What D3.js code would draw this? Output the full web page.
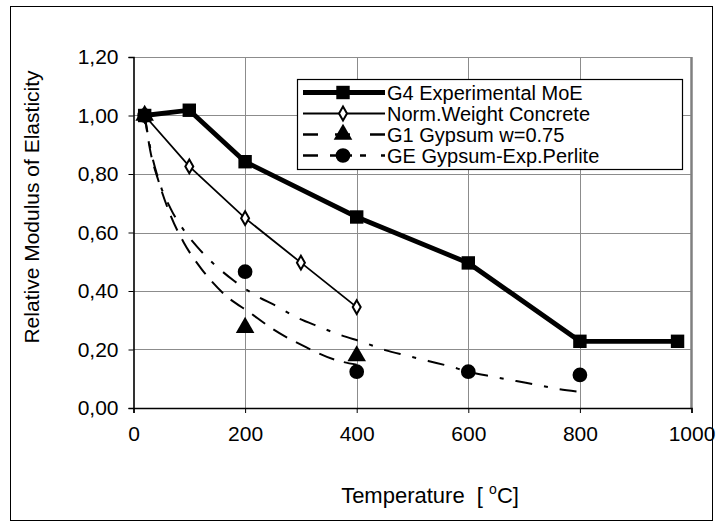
<!DOCTYPE html>
<html>
<head>
<meta charset="utf-8">
<script src="https://cdn.jsdelivr.net/npm/d3@7/dist/d3.min.js"></script>
<style>
  body { margin: 0; background: #fff; }
  svg { font-family: "Liberation Sans", Arial, sans-serif; }
  .grid line { stroke: #8c8c8c; stroke-width: 1; }
</style>
</head>
<body>
<svg id="chart"></svg>
<script>
'use strict';

// measured series
var g4Temp = [20, 100, 200, 400, 600, 800, 975];
var g4Val = [1.00, 1.018, 0.842, 0.653, 0.496, 0.228, 0.228];

var nwTemp = [20, 100, 200, 300, 400];
var nwVal = [1.00, 0.826, 0.649, 0.497, 0.345];

var g1Temp = [20, 200, 400];
var g1Val = [1.00, 0.275, 0.178];

var geTemp = [20, 200, 400, 600, 800];
var geVal = [1.00, 0.466, 0.124, 0.124, 0.113];

// trend curves
var g1CurveTemp = [20, 30, 45, 65, 90, 122, 162, 210, 248, 310, 361, 400];
var g1CurveVal = [1.00, 0.88, 0.775, 0.665, 0.566, 0.475, 0.39, 0.324, 0.272, 0.207, 0.165, 0.148];

var geCurveTemp = [20, 30, 45, 67, 92, 117, 146, 180, 218, 257, 292, 334, 370, 411, 451, 490, 530, 568, 600, 645, 686, 724, 763, 795];
var geCurveVal = [1.00, 0.89, 0.78, 0.68, 0.603, 0.545, 0.489, 0.435, 0.386, 0.348, 0.31, 0.277, 0.25, 0.225, 0.198, 0.179, 0.16, 0.142, 0.124, 0.107, 0.092, 0.079, 0.064, 0.056];

var xTicks = [0, 200, 400, 600, 800, 1000];
var yTicks = [0, 0.2, 0.4, 0.6, 0.8, 1.0, 1.2];

var legendNames = ['G4 Experimental MoE', 'Norm.Weight Concrete', 'G1 Gypsum w=0.75', 'GE Gypsum-Exp.Perlite'];

function zip(xs, ys) {
  return xs.map(function (x, i) { return [x, ys[i]]; });
}

function drawChart(svg) {
  var width = 717, height = 527;
  var plot = {left: 133.5, right: 691.5, top: 57, bottom: 408};
  var fontSize = 21;

  var x = d3.scaleLinear().domain([0, 1000]).range([plot.left, plot.right]);
  var y = d3.scaleLinear().domain([0, 1.2]).range([plot.bottom, plot.top]);
  var fmt = function (d) { return d3.format('.2f')(d).replace('.', ','); };

  svg.attr('width', width).attr('height', height);

  svg.append('rect')
    .attr('x', 10.5).attr('y', 6.5)
    .attr('width', 702).attr('height', 514)
    .attr('fill', '#fff').attr('stroke', '#000').attr('stroke-width', 1);

  // gridlines
  var grid = svg.append('g').attr('class', 'grid');
  grid.selectAll('line.h').data(yTicks.slice(1)).enter()
    .append('line').attr('class', 'h')
    .attr('x1', plot.left).attr('x2', plot.right)
    .attr('y1', function (d) { return Math.round(y(d)) + 0.5; })
    .attr('y2', function (d) { return Math.round(y(d)) + 0.5; });
  grid.selectAll('line.v').data(xTicks.slice(1, -1)).enter()
    .append('line').attr('class', 'v')
    .attr('y1', plot.top).attr('y2', plot.bottom)
    .attr('x1', function (d) { return Math.round(x(d)) + 0.5; })
    .attr('x2', function (d) { return Math.round(x(d)) + 0.5; });
  svg.append('line')
    .attr('x1', x(1000)).attr('x2', x(1000))
    .attr('y1', plot.top).attr('y2', plot.bottom)
    .attr('stroke', '#808080').attr('stroke-width', 2.5);

  // axes
  var xAxis = d3.axisBottom(x).tickValues(xTicks).tickSize(5).tickPadding(13).tickFormat(d3.format('d'));
  var yAxis = d3.axisLeft(y).tickValues(yTicks).tickSize(5).tickPadding(10).tickFormat(fmt);

  function styleAxis(g) {
    g.select('.domain').attr('stroke-width', 1.6);
    g.selectAll('text').attr('font-size', fontSize).attr('fill', '#000')
      .attr('font-family', '"Liberation Sans", Arial, sans-serif');
  }

  svg.append('g')
    .attr('transform', 'translate(0,' + plot.bottom + ')')
    .call(xAxis)
    .call(styleAxis);

  svg.append('g')
    .attr('transform', 'translate(' + plot.left + ',0)')
    .call(yAxis)
    .call(styleAxis);

  svg.append('text')
    .attr('transform', 'translate(39,207) rotate(-90)')
    .attr('text-anchor', 'middle')
    .attr('font-size', fontSize)
    .text('Relative Modulus of Elasticity');

  var xt = svg.append('text')
    .attr('x', 430).attr('y', 503)
    .attr('text-anchor', 'middle')
    .attr('font-size', 22);
  xt.append('tspan').text('Temperature\u00a0\u00a0[\u00a0');
  xt.append('tspan').attr('dy', -9).attr('font-size', 14).text('o');
  xt.append('tspan').attr('dy', 9).text('C]');

  var line = d3.line()
    .x(function (d) { return x(d[0]); })
    .y(function (d) { return y(d[1]); });
  var curve = d3.line()
    .curve(d3.curveMonotoneX)
    .x(function (d) { return x(d[0]); })
    .y(function (d) { return y(d[1]); });

  // trend curves
  svg.append('path').datum(zip(geCurveTemp, geCurveVal))
    .attr('d', curve).attr('fill', 'none')
    .attr('stroke', '#000').attr('stroke-width', 2)
    .attr('stroke-dasharray', '17,12,4,12');
  svg.append('path').datum(zip(g1CurveTemp, g1CurveVal))
    .attr('d', curve).attr('fill', 'none')
    .attr('stroke', '#000').attr('stroke-width', 2)
    .attr('stroke-dasharray', '16,10');

  // normal weight concrete
  svg.append('path').datum(zip(nwTemp, nwVal))
    .attr('d', line).attr('fill', 'none')
    .attr('stroke', '#000').attr('stroke-width', 1.8);

  // G4
  svg.append('path').datum(zip(g4Temp, g4Val))
    .attr('d', line).attr('fill', 'none')
    .attr('stroke', '#000').attr('stroke-width', 4.8);

  var sq = d3.symbol().type(d3.symbolSquare).size(180);
  var dia = d3.symbol().type(d3.symbolDiamond).size(55);
  var tri = d3.symbol().type(d3.symbolTriangle).size(150);
  var cir = d3.symbol().type(d3.symbolCircle).size(170);

  function markers(data, sym, fill, sw) {
    svg.append('g').selectAll('path').data(data).enter()
      .append('path')
      .attr('transform', function (d) { return 'translate(' + x(d[0]) + ',' + y(d[1]) + ')'; })
      .attr('d', sym)
      .attr('fill', fill)
      .attr('stroke', '#000')
      .attr('stroke-width', sw);
  }

  markers(zip(geTemp, geVal), cir, '#000', 0);
  markers(zip(g1Temp, g1Val), tri, '#000', 0);
  markers(zip(nwTemp, nwVal), dia, '#fff', 2);
  markers(zip(g4Temp, g4Val), sq, '#000', 0);

  // legend
  var rowStep = 21;
  var lg = svg.append('g');
  lg.append('rect')
    .attr('x', 297.5).attr('y', 79.5)
    .attr('width', 385).attr('height', 90)
    .attr('fill', '#fff').attr('stroke', '#000').attr('stroke-width', 1.2);

  var styles = [
    {sw: 4.8, dash: null, sym: sq, fill: '#000', msw: 0},
    {sw: 1.8, dash: null, sym: dia, fill: '#fff', msw: 2},
    {sw: 2.5, dash: '15,17,15,20,17', sym: tri, fill: '#000', msw: 0},
    {sw: 2.5, dash: '15,12,22,8,6', sym: cir, fill: '#000', msw: 0}
  ];

  legendNames.forEach(function (name, i) {
    var cy = 92.5 + i * rowStep;
    var st = styles[i];
    lg.append('line')
      .attr('x1', 303).attr('x2', 385)
      .attr('y1', cy).attr('y2', cy)
      .attr('stroke', '#000').attr('stroke-width', st.sw)
      .attr('stroke-dasharray', st.dash);
    lg.append('path')
      .attr('transform', 'translate(343,' + cy + ')')
      .attr('d', st.sym)
      .attr('fill', st.fill)
      .attr('stroke', '#000')
      .attr('stroke-width', st.msw);
    lg.append('text')
      .attr('x', 387).attr('y', cy + 7)
      .attr('font-size', 20)
      .text(name);
  });
}

drawChart(d3.select('#chart'));
</script>
</body>
</html>
